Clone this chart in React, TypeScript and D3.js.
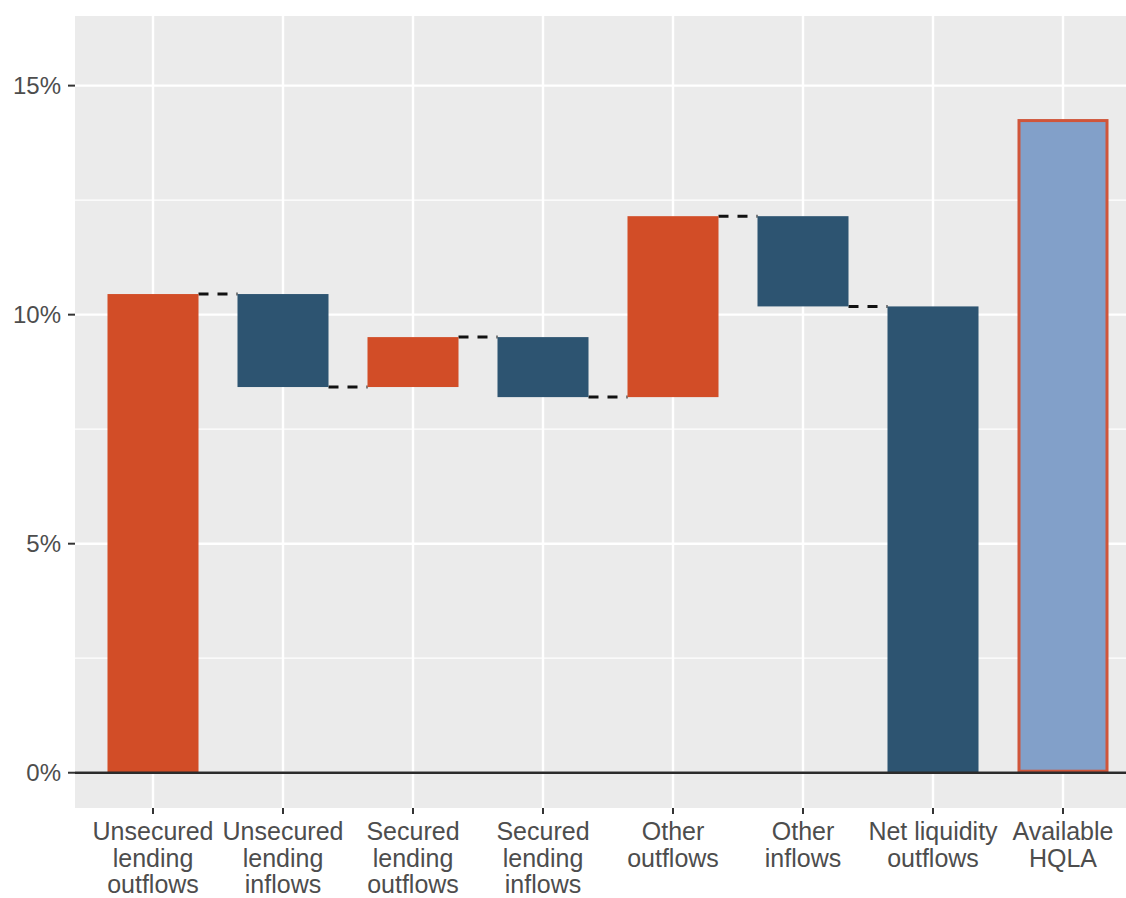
import React, { useRef, useEffect } from 'react';
import * as d3 from 'd3';

const categories = [
  "Unsecured lending outflows",
  "Unsecured lending inflows",
  "Secured lending outflows",
  "Secured lending inflows",
  "Other outflows",
  "Other inflows",
  "Net liquidity outflows",
  "Available HQLA",
];

// label lines under each category
const labelLines = [
  ["Unsecured", "lending", "outflows"],
  ["Unsecured", "lending", "inflows"],
  ["Secured", "lending", "outflows"],
  ["Secured", "lending", "inflows"],
  ["Other", "outflows"],
  ["Other", "inflows"],
  ["Net liquidity", "outflows"],
  ["Available", "HQLA"],
];

// waterfall values, % of assets
const barStart = [0, 10.45, 8.42, 9.51, 8.2, 12.15, 0, 0];
const barEnd = [10.45, 8.42, 9.51, 8.2, 12.15, 10.18, 10.18, 14.27];
const barKind = ["outflow", "inflow", "outflow", "inflow", "outflow", "inflow", "inflow", "hqla"];

const majorTicks = [0, 5, 10, 15];
const minorTicks = [2.5, 7.5, 12.5];

const W = 1126;
const H = 898;

export default function App() {
  const svgRef = useRef<SVGSVGElement>(null);

  useEffect(() => {
    if (!svgRef.current) return;
    d3.select(svgRef.current).selectAll("*").remove();

    const svg = d3.select(svgRef.current)
      .attr("width", W)
      .attr("height", H);

    const panel = { left: 75, top: 16, bottom: 808 };

    const x = d3.scaleBand<string>()
      .domain(categories)
      .range([75, 1141])
      .paddingInner(0.3)
      .paddingOuter(0.25);

    const y = d3.scaleLinear()
      .domain([-0.77, 16.52])
      .range([panel.bottom, panel.top]);

    const fillFor: { [k: string]: string } = {
      outflow: "#D24D27",
      inflow: "#2D5471",
      hqla: "#82A0C9",
    };

    // panel background
    svg.append("rect")
      .attr("x", panel.left)
      .attr("y", panel.top)
      .attr("width", 1141 - panel.left)
      .attr("height", panel.bottom - panel.top)
      .attr("fill", "#EBEBEB");

    // grid
    minorTicks.forEach(t => {
      svg.append("line")
        .attr("x1", panel.left).attr("x2", 1141)
        .attr("y1", y(t)).attr("y2", y(t))
        .attr("stroke", "#fff").attr("stroke-width", 1.2);
    });
    majorTicks.forEach(t => {
      svg.append("line")
        .attr("x1", panel.left).attr("x2", 1141)
        .attr("y1", y(t)).attr("y2", y(t))
        .attr("stroke", "#fff").attr("stroke-width", 2.4);
    });
    categories.forEach(c => {
      const cx = (x(c) || 0) + x.bandwidth() / 2;
      svg.append("line")
        .attr("x1", cx).attr("x2", cx)
        .attr("y1", panel.top).attr("y2", panel.bottom)
        .attr("stroke", "#fff").attr("stroke-width", 2.4);
    });

    // connectors
    for (let i = 0; i < 6; i++) {
      const x1 = (x(categories[i]) || 0) + x.bandwidth();
      const x2 = x(categories[i + 1]) || 0;
      svg.append("line")
        .attr("x1", x1).attr("x2", x2)
        .attr("y1", y(barEnd[i])).attr("y2", y(barEnd[i]))
        .attr("stroke", "#111")
        .attr("stroke-width", 3)
        .attr("stroke-dasharray", "10,9");
    }

    // bars
    categories.forEach((c, i) => {
      const lo = Math.min(barStart[i], barEnd[i]);
      const hi = Math.max(barStart[i], barEnd[i]);
      const isHqla = barKind[i] === "hqla";
      const inset = isHqla ? 1.5 : 0;
      svg.append("rect")
        .attr("x", (x(c) || 0) + inset)
        .attr("y", y(hi) + inset)
        .attr("width", x.bandwidth() - inset * 2)
        .attr("height", y(lo) - y(hi) - inset * 2)
        .attr("fill", fillFor[barKind[i]])
        .attr("stroke", isHqla ? "#D0553A" : "none")
        .attr("stroke-width", isHqla ? 3 : 0);
    });

    // zero line
    svg.append("line")
      .attr("x1", panel.left).attr("x2", 1141)
      .attr("y1", y(0)).attr("y2", y(0))
      .attr("stroke", "#2b2b2b").attr("stroke-width", 2.6);

    // y axis
    majorTicks.forEach(t => {
      svg.append("line")
        .attr("x1", panel.left - 7).attr("x2", panel.left)
        .attr("y1", y(t)).attr("y2", y(t))
        .attr("stroke", "#333").attr("stroke-width", 2);
      svg.append("text")
        .attr("x", panel.left - 14)
        .attr("y", y(t))
        .attr("dy", "0.36em")
        .attr("text-anchor", "end")
        .attr("font-size", "24px")
        .attr("font-family", "'Liberation Sans', Arial, sans-serif")
        .attr("fill", "#4D4D4D")
        .text(`${t}%`);
    });

    // x axis
    categories.forEach((c, i) => {
      const cx = (x(c) || 0) + x.bandwidth() / 2;
      svg.append("line")
        .attr("x1", cx).attr("x2", cx)
        .attr("y1", panel.bottom).attr("y2", panel.bottom + 6)
        .attr("stroke", "#333").attr("stroke-width", 2);
      const txt = svg.append("text")
        .attr("text-anchor", "middle")
        .attr("font-size", "25px")
        .attr("font-family", "'Liberation Sans', Arial, sans-serif")
        .attr("fill", "#4D4D4D");
      labelLines[i].forEach((ln, j) => {
        txt.append("tspan")
          .attr("x", cx)
          .attr("y", 840 + j * 26.5)
          .text(ln);
      });
    });
  }, []);

  return (
    <div style={{ position: 'fixed', left: 0, top: 0, width: W, height: H, background: '#fff', overflow: 'hidden' }}>
      <svg ref={svgRef} style={{ display: 'block' }} />
    </div>
  );
}
